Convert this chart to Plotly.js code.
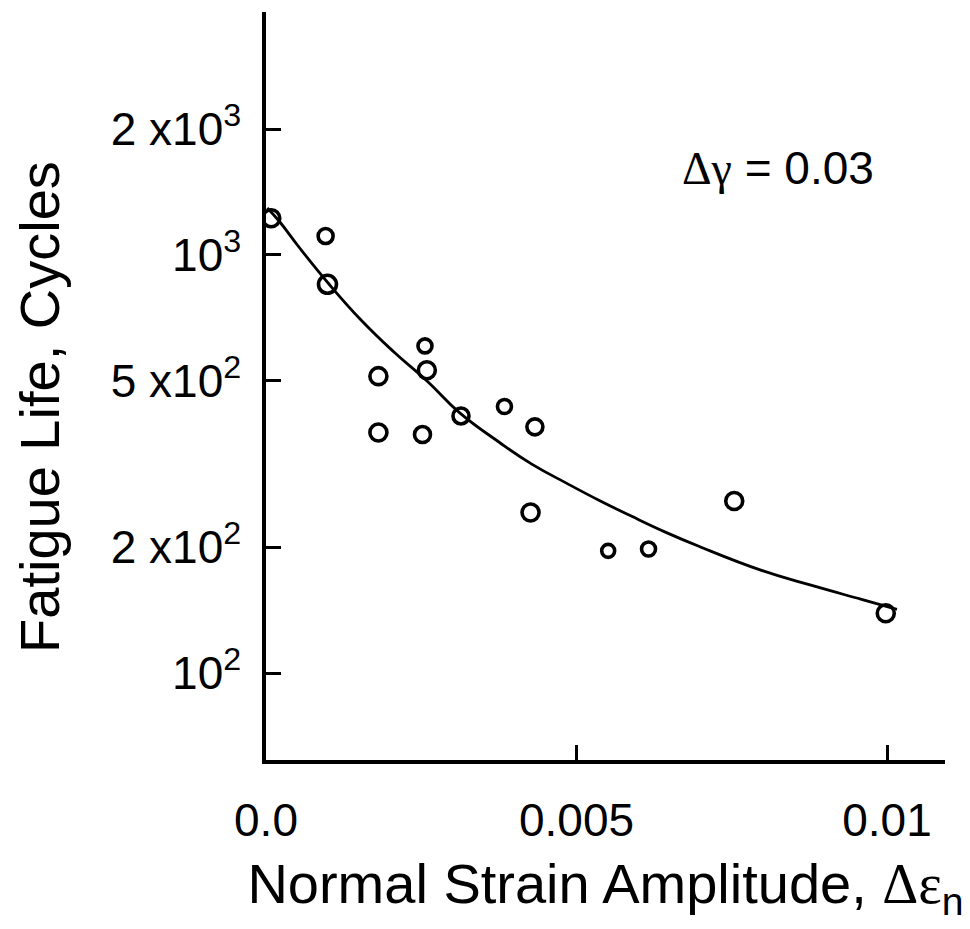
<!DOCTYPE html>
<html>
<head>
<meta charset="utf-8">
<script src="https://cdn.plot.ly/plotly-3.0.1.min.js"></script>
<style>html,body{margin:0;padding:0;background:#fff;}#chart{width:970px;height:929px;}</style>
</head>
<body>
<div id="chart"></div>
<script>
// Measured data points (normal strain amplitude, fatigue life in cycles)
const strainPts = [0.000085, 0.00096, 0.00099, 0.00256, 0.00259, 0.00181, 0.00181, 0.00252, 0.00314, 0.00384, 0.00433, 0.00426, 0.00551, 0.00616, 0.00754, 0.00998];
const lifePts   = [1224, 1110, 851, 606, 530, 513, 376, 372, 412, 434, 388, 242, 196, 198, 258, 139];
const markerSizes = [17, 15, 18, 14, 17, 17, 17, 16, 16, 14, 16, 17, 13, 14, 17, 17];

// Fitted curve
const curveStrain = [0.00002, 0.00021, 0.00053, 0.00100, 0.00153, 0.00206, 0.00261, 0.00312, 0.00375, 0.00428, 0.00483, 0.00536, 0.00589, 0.00644, 0.00697, 0.00798, 0.00879, 0.00959, 0.01016];
const curveLife   = [1296, 1206, 1045, 857, 699, 586, 497, 419, 357, 316, 285, 259, 237, 217, 201, 176, 162, 150, 142];

// Ticks
const xTickVals = [0, 0.005, 0.01];
const xTickText = ['0.0', '0.005', '0.01'];
const yTickVals = [100, 200, 500, 1000, 2000];
const yTickText = ['10<sup>2</sup>', '2 x10<sup>2</sup>', '5 x10<sup>2</sup>', '10<sup>3</sup>', '2 x10<sup>3</sup>'];

const FONT = 'Liberation Sans, Arial, sans-serif';
const SYM = 'font-family:Liberation Serif';

const traces = [
  {
    x: curveStrain, y: curveLife, type: 'scatter', mode: 'lines',
    line: {color: '#000', width: 2.8, shape: 'spline', smoothing: 1.3},
    hoverinfo: 'skip', showlegend: false
  },
  {
    x: strainPts, y: lifePts, type: 'scatter', mode: 'markers',
    marker: {symbol: 'circle', size: markerSizes, color: 'rgba(0,0,0,0)', opacity: 1, line: {color: '#000', width: 3.6}},
    showlegend: false
  }
];

const layout = {
  width: 970, height: 929,
  margin: {l: 266, r: 25, t: 12, b: 169},
  paper_bgcolor: '#fff', plot_bgcolor: '#fff',
  font: {family: FONT, color: '#000'},
  showlegend: false,
  xaxis: {
    range: [0, 0.010934],
    showgrid: false, zeroline: false,
    showline: true, linecolor: '#000', linewidth: 3.6,
    ticks: 'inside', ticklen: 15, tickwidth: 3, tickcolor: '#000',
    tickvals: xTickVals, ticktext: xTickText,
    tickfont: {family: FONT, size: 46, color: '#000'},
    ticklabelstandoff: 17,
    title: {text: 'Normal Strain Amplitude, <span style="' + SYM + '">Δε</span><sub>n</sub>', font: {family: FONT, size: 56, color: '#000'}, standoff: 20}
  },
  yaxis: {
    type: 'log',
    range: [1.7919, 3.5813],
    showgrid: false, zeroline: false,
    showline: true, linecolor: '#000', linewidth: 3.6,
    ticks: 'inside', ticklen: 15, tickwidth: 3, tickcolor: '#000',
    tickvals: yTickVals, ticktext: yTickText,
    tickfont: {family: FONT, size: 46, color: '#000'},
    ticklabelstandoff: 12
  },
  annotations: [
    {
      xref: 'paper', yref: 'paper', x: -0.3328, y: 0.472,
      xanchor: 'center', yanchor: 'middle', showarrow: false, textangle: -90,
      text: 'Fatigue Life, Cycles',
      font: {family: FONT, size: 56, color: '#000'}
    },
    {
      xref: 'paper', yref: 'paper', x: 0.754, y: 0.791,
      xanchor: 'center', yanchor: 'middle', showarrow: false,
      text: '<span style="' + SYM + '">Δγ</span> = 0.03',
      font: {family: FONT, size: 46, color: '#000'}
    }
  ]
};

Plotly.newPlot('chart', traces, layout, {displayModeBar: false, staticPlot: true});
</script>
</body>
</html>
